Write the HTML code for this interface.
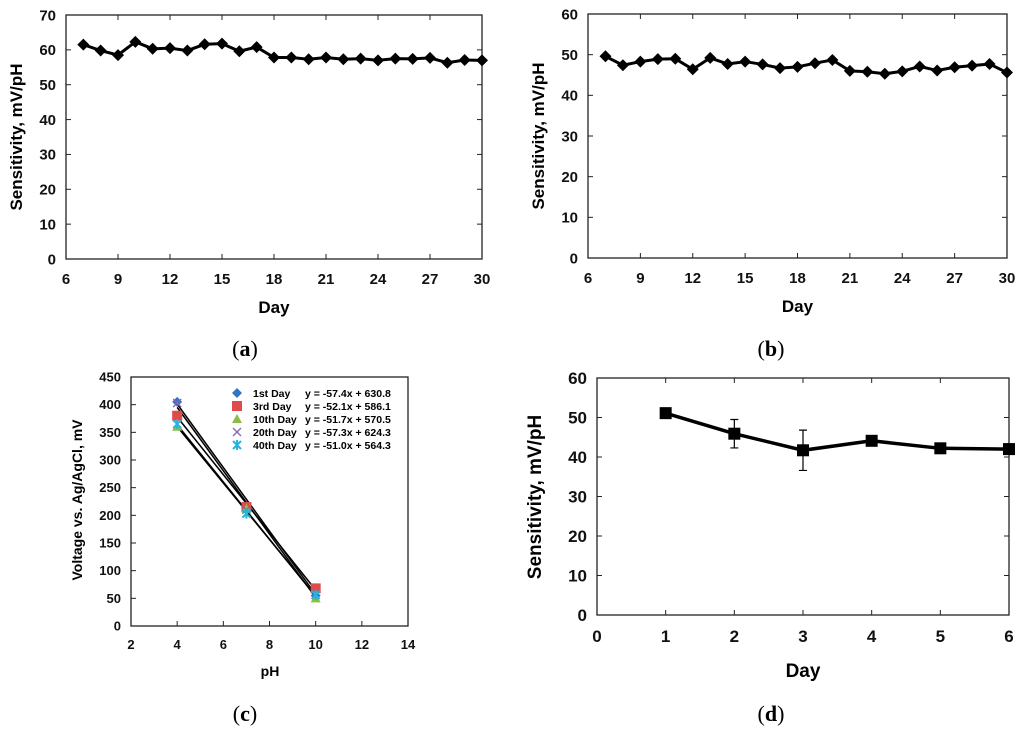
<!DOCTYPE html>
<html><head><meta charset="utf-8"><style>
body{margin:0;background:#fff;width:1024px;height:735px;overflow:hidden}
svg{font-family:"Liberation Sans",sans-serif;font-weight:bold}
</style></head><body>
<svg id="s" width="1024" height="735" xmlns="http://www.w3.org/2000/svg"></svg>
<script>
const daysAB=[7,8,9,10,11,12,13,14,15,16,17,18,19,20,21,22,23,24,25,26,27,28,29,30];
const sensA=[61.5,59.8,58.5,62.3,60.3,60.5,59.8,61.6,61.8,59.6,60.8,57.8,57.8,57.3,57.8,57.3,57.5,57.0,57.5,57.4,57.7,56.3,57.1,57.0];
const sensB=[49.6,47.4,48.3,48.9,49.0,46.4,49.2,47.7,48.3,47.6,46.7,47.0,47.9,48.7,46.0,45.8,45.3,45.9,47.1,46.1,46.9,47.3,47.7,45.6];
const xTicksAB=[6,9,12,15,18,21,24,27,30];
const pHs=[4,7,10];
const seriesNames=["1st Day","3rd Day","10th Day","20th Day","40th Day"];
const seriesEq=["y = -57.4x + 630.8","y = -52.1x + 586.1","y = -51.7x + 570.5","y = -57.3x + 624.3","y = -51.0x + 564.3"];
const slopes=[-57.4,-52.1,-51.7,-57.3,-51.0];
const intercepts=[630.8,586.1,570.5,624.3,564.3];
const volt1=[405,212,55];
const volt3=[380,215,68];
const volt10=[360,212,50];
const volt20=[403,210,56];
const volt40=[365,203,56];
const daysD=[1,2,3,4,5,6];
const sensD=[51.1,45.9,41.7,44.1,42.2,42.0];
const errD=[0,3.6,5.1,0,0,0];

const svg=document.getElementById('s');const NS="http://www.w3.org/2000/svg";
function el(t,a,p){const e=document.createElementNS(NS,t);for(const k in a)e.setAttribute(k,a[k]);(p||svg).appendChild(e);return e;}
function txt(s,a,p){const e=el('text',a,p);e.textContent=s;return e;}
function lin(d0,d1,r0,r1){return v=>r0+(v-d0)/(d1-d0)*(r1-r0);}

function frame(g,X,Y,box,xt,yt,fs,mirror){
  el('rect',{x:box[0],y:box[1],width:box[2]-box[0],height:box[3]-box[1],fill:'none',stroke:'#222','stroke-width':1.3},g);
  xt.forEach(v=>{const x=X(v);el('line',{x1:x,x2:x,y1:box[3],y2:box[3]-5,stroke:'#222'},g);if(mirror)el('line',{x1:x,x2:x,y1:box[1],y2:box[1]+5,stroke:'#222'},g);
    const t=txt(v,{x:x,y:box[3]+fs+10,'text-anchor':'middle','font-size':fs,fill:'#111'},g);});
  yt.forEach(v=>{const y=Y(v);el('line',{x1:box[0],x2:box[0]+5,y1:y,y2:y,stroke:'#222'},g);if(mirror)el('line',{x1:box[2],x2:box[2]-5,y1:y,y2:y,stroke:'#222'},g);
    const t=txt(v,{x:box[0]-10,y:y+fs*0.35,'text-anchor':'end','font-size':fs,fill:'#111'},g);});
}
function diamond(g,x,y,r){const p=el('polygon',{points:`${x},${y-r} ${x+r},${y} ${x},${y+r} ${x-r},${y}`,fill:'#000'},g);}

function panelAB(box,ymax,yt,data,name){
  const g=el('g',{});
  const X=lin(6,30,box[0],box[2]),Y=lin(0,ymax,box[3],box[1]);
  frame(g,X,Y,box,xTicksAB,yt,15,true);
  const l=el('polyline',{points:daysAB.map((d,i)=>X(d)+','+Y(data[i])).join(' '),fill:'none',stroke:'#000','stroke-width':3},g);
  
  daysAB.forEach((d,i)=>diamond(g,X(d),Y(data[i]),6));
  const xt=txt('Day',{x:(box[0]+box[2])/2,y:box[3]+54,'text-anchor':'middle','font-size':17},g);
  const cx=box[0]-44,cy=(box[1]+box[3])/2;
  const yl=txt('Sensitivity, mV/pH',{x:cx,y:cy,transform:`rotate(-90 ${cx} ${cy})`,'text-anchor':'middle','font-size':17},g);
}
panelAB([66,15,482,259],70,[0,10,20,30,40,50,60,70],sensA,'panel-a');
panelAB([588,14,1007,258],60,[0,10,20,30,40,50,60],sensB,'panel-b');

// panel c
(function(){
  const g=el('g',{});
  const box=[131,377,408,626];const X=lin(2,14,box[0],box[2]),Y=lin(0,450,box[3],box[1]);
  frame(g,X,Y,box,[2,4,6,8,10,12,14],[0,50,100,150,200,250,300,350,400,450],13,false);
  slopes.forEach((m,i)=>{const f=el('line',{x1:X(4),y1:Y(m*4+intercepts[i]),x2:X(10),y2:Y(m*10+intercepts[i]),stroke:'#000','stroke-width':1.5},g);});
  const sets=[volt1,volt3,volt10,volt20,volt40];const cols=['#2e75c6','#e04a4a','#8cbc45','#8a64b0','#26b4dc'];
  function mark(k,x,y){const c=cols[k];let e;
    if(k==0)e=el('polygon',{points:`${x},${y-5} ${x+5},${y} ${x},${y+5} ${x-5},${y}`,fill:c},g);
    else if(k==1)e=el('rect',{x:x-5,y:y-5,width:10,height:10,fill:c},g);
    else if(k==2)e=el('polygon',{points:`${x},${y-5} ${x+5},${y+4} ${x-5},${y+4}`,fill:c},g);
    else if(k==3)e=el('path',{d:`M${x-4} ${y-4}L${x+4} ${y+4}M${x+4} ${y-4}L${x-4} ${y+4}`,stroke:c,'stroke-width':1.3},g);
    else e=el('path',{d:`M${x-4} ${y-4}L${x+4} ${y+4}M${x+4} ${y-4}L${x-4} ${y+4}M${x} ${y-5}L${x} ${y+5}`,stroke:c,'stroke-width':2},g);
    }
  sets.forEach((s,k)=>pHs.forEach((p,i)=>mark(k,X(p),Y(s[i]))));
  seriesNames.forEach((n,k)=>{const y=393+k*13;mark(k,237,y);
    const a=txt(n,{x:253,y:y+4,'font-size':10.5},g);
    const b=txt(seriesEq[k],{x:305,y:y+4,'font-size':10.5},g);});
  const xt=txt('pH',{x:270,y:676,'text-anchor':'middle','font-size':14},g);
  const cx=82,cy=500;const yl=txt('Voltage vs. Ag/AgCl, mV',{x:cx,y:cy,transform:`rotate(-90 ${cx} ${cy})`,'text-anchor':'middle','font-size':14},g);
})();

// panel d
(function(){
  const g=el('g',{});
  const box=[597,378,1009,615];const X=lin(0,6,box[0],box[2]),Y=lin(0,60,box[3],box[1]);
  frame(g,X,Y,box,[0,1,2,3,4,5,6],[0,10,20,30,40,50,60],17,true);
  daysD.forEach((d,i)=>{if(errD[i]>0){const x=X(d);const e=el('path',{d:`M${x} ${Y(sensD[i]-errD[i])}L${x} ${Y(sensD[i]+errD[i])}M${x-4} ${Y(sensD[i]-errD[i])}L${x+4} ${Y(sensD[i]-errD[i])}M${x-4} ${Y(sensD[i]+errD[i])}L${x+4} ${Y(sensD[i]+errD[i])}`,stroke:'#000','stroke-width':1.2,fill:'none'},g);}});
  const l=el('polyline',{points:daysD.map((d,i)=>X(d)+','+Y(sensD[i])).join(' '),fill:'none',stroke:'#000','stroke-width':3.5},g);
  daysD.forEach((d,i)=>{const r=el('rect',{x:X(d)-6,y:Y(sensD[i])-6,width:12,height:12,fill:'#000'},g);});
  const xt=txt('Day',{x:803,y:677,'text-anchor':'middle','font-size':19},g);
  const cx=541,cy=497;const yl=txt('Sensitivity, mV/pH',{x:cx,y:cy,transform:`rotate(-90 ${cx} ${cy})`,'text-anchor':'middle','font-size':19},g);
})();

[['(a)',245,356],['(b)',771,356],['(c)',245,721],['(d)',771,721]].forEach(p=>{
  const t=el('text',{x:p[1],y:p[2],'text-anchor':'middle','font-size':22,'font-family':'Liberation Serif, serif','font-weight':'normal'});
  t.innerHTML='(<tspan font-weight="bold">'+p[0][1]+'</tspan>)';
  
  
});
</script>
</body></html>
